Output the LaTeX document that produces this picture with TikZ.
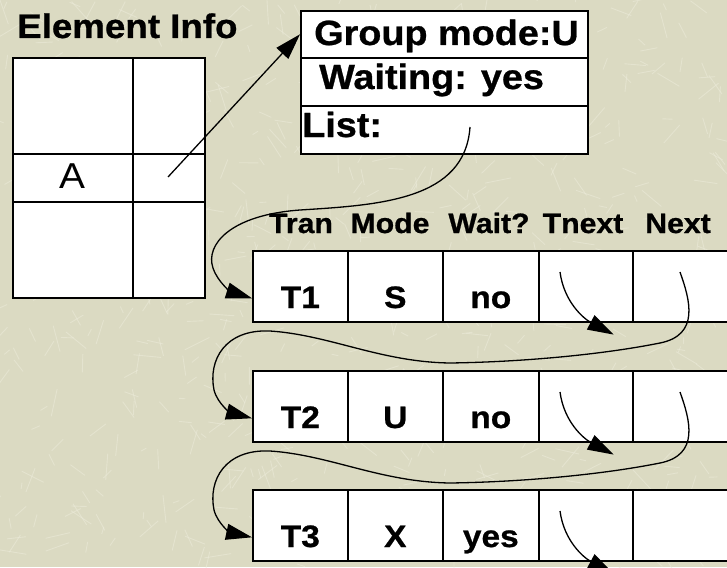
\documentclass[tikz,border=0pt]{standalone}
\usepackage{fontspec}
\setmainfont{Liberation Sans}[FakeStretch=1.08, BoldFeatures={FakeBold=0.8}]
\usetikzlibrary{arrows.meta,calc}
\definecolor{paper}{RGB}{219,218,194}
\definecolor{fleck}{RGB}{236,235,218}
\tikzset{
  box/.style={draw, fill=white, line width=1.6pt, anchor=north west, inner sep=0pt},
  link/.style={line width=1.3pt, -{Triangle[length=26pt,width=16pt]}},
  title/.style={font=\fontsize{34}{38}\selectfont\bfseries, inner sep=0pt},
  big/.style={font=\fontsize{35}{39}\selectfont\bfseries, inner sep=0pt},
  head/.style={font=\fontsize{28}{32}\selectfont\bfseries, inner sep=0pt},
  mid/.style={font=\fontsize{31}{35}\selectfont\bfseries, inner sep=0pt},
}
\begin{document}
\begin{tikzpicture}[x=1pt,y=-1pt]
% paper background with light flecks
\clip (0,0) rectangle (727,567);
\fill[paper] (0,0) rectangle (727,567);
\pgfmathsetseed{11}
\foreach \i in {1,...,700}{
  \pgfmathsetmacro{\px}{rnd*727}
  \pgfmathsetmacro{\py}{rnd*567}
  \pgfmathsetmacro{\pa}{rnd*360}
  \pgfmathsetmacro{\pl}{6+rnd*22}
  \draw[fleck, line width=0.9pt, opacity=0.55] (\px,\py) -- ++(\pa:\pl);
}

% element info table
\node[title, anchor=base west] (caption) at (17,38) {Element Info};
\node[box, minimum width=120pt, minimum height=96pt] (e11) at (12,57) {};
\node[box, minimum width=72pt,  minimum height=96pt] (e12) at (132,57) {};
\node[box, minimum width=120pt, minimum height=48pt] (e21) at (12,153) {};
\node[box, minimum width=72pt,  minimum height=48pt] (e22) at (132,153) {};
\node[box, minimum width=120pt, minimum height=96pt] (e31) at (12,201) {};
\node[box, minimum width=72pt,  minimum height=96pt] (e32) at (132,201) {};
\node[font=\fontsize{36}{40}\selectfont, inner sep=0pt, anchor=base] (keyA) at (72,188) {A};

% group record
\node[box, minimum width=287pt, minimum height=47pt] (g1) at (300,10) {};
\node[box, minimum width=287pt, minimum height=48pt] (g2) at (300,57) {};
\node[box, minimum width=287pt, minimum height=48pt] (g3) at (300,105) {};
\node[big, anchor=base west] (gt1) at (314,45) {Group mode:U};
\node[big, anchor=base west] (gt2) at (319,89) {Waiting: yes};
\node[big, anchor=base west] (gt3) at (302,137) {List:};

% transaction rows
\foreach \r/\top/\ta/\tb/\tc in {1/250/T1/S/no, 2/370/T2/U/no, 3/489/T3/X/yes}{
  \node[box, minimum width=95pt,  minimum height=71pt] (r\r-1) at (252,\top) {};
  \node[box, minimum width=95pt,  minimum height=71pt] (r\r-2) at (347,\top) {};
  \node[box, minimum width=96pt,  minimum height=71pt] (r\r-3) at (442,\top) {};
  \node[box, minimum width=94pt,  minimum height=71pt] (r\r-4) at (538,\top) {};
  \node[box, minimum width=110pt, minimum height=71pt] (r\r-5) at (632,\top) {};
  \node[mid, anchor=base] (v\r-1) at ($(r\r-1.north)+(0,58)$) {\ta};
  \node[mid, anchor=base] (v\r-2) at ($(r\r-2.north)+(0,58)$) {\tb};
  \node[mid, anchor=base] (v\r-3) at ($(r\r-3.north)+(0,58)$) {\tc};
}

% column headings
\node[head, anchor=base] (h1) at (301,233) {Tran};
\node[head, anchor=base] (h2) at (390,233) {Mode};
\node[head, anchor=base] (h3) at (489,233) {Wait?};
\node[head, anchor=base] (h4) at (583,233) {Tnext};
\node[head, anchor=base] (h5) at (678,233) {Next};

% pointers
\coordinate (ptrA) at (168,177);
\draw[link] (ptrA) -- (g1.west);

\coordinate (listp) at (470,127);
\draw[link] (listp) .. controls (465,200) and (380,205) .. (300,210)
  .. controls (230,215) and (205,245) .. (213,268)
  .. controls (218,283) and (232,292) .. ([yshift=-12pt]r1-1.west);

\foreach \r in {1,2,3}{
  \coordinate (tn\r) at ($(r\r-4.north west)+(22,22)$);
  \coordinate (tt\r) at ($(r\r-4.south east)+(-20,12)$);
  \draw[link] (tn\r) .. controls +(4,30) and +(-30,-16) .. (tt\r);
}

\foreach \r/\nx/\dy in {1/2/0, 2/3/120}{
  \coordinate (nx\r) at ($(r\r-5.north west)+(48,22)$);
  \draw[link] (nx\r) .. controls (690,{300+\dy}) and (700,{335+\dy}) .. (660,{343+\dy})
    .. controls (600,{355+\dy}) and (520,{362+\dy}) .. (450,{363+\dy})
    .. controls (380,{362+\dy}) and (330,{335+\dy}) .. (270,{331+\dy})
    .. controls (225,{329+\dy}) and (208,{360+\dy}) .. (214,{390+\dy})
    .. controls (218,{405+\dy}) and (232,{413+\dy}) .. ([yshift=-12pt]r\nx-1.west);
}
\end{tikzpicture}
\end{document}
